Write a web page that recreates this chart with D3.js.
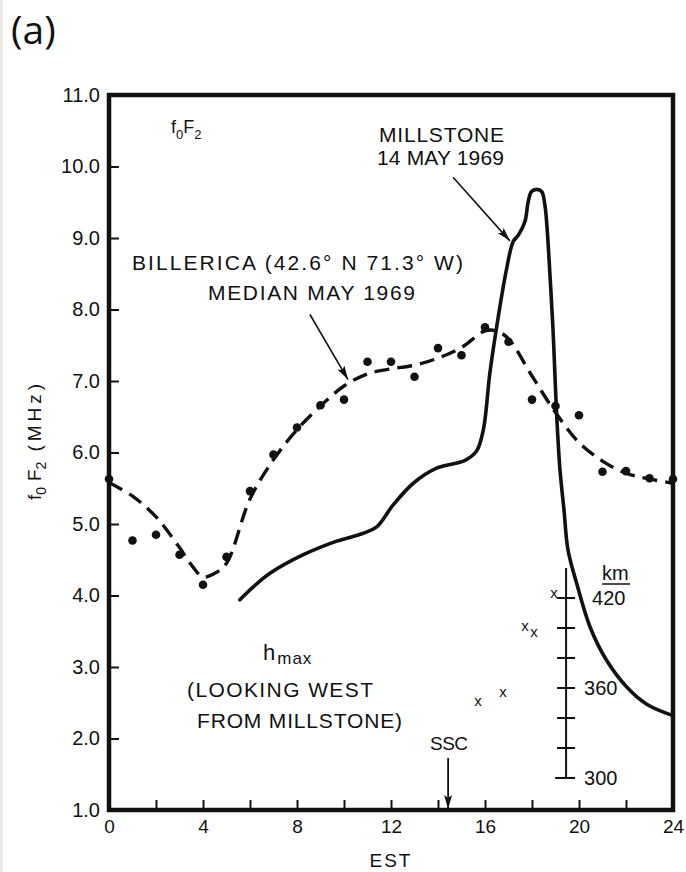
<!DOCTYPE html>
<html>
<head>
<meta charset="utf-8">
<script src="https://cdn.jsdelivr.net/npm/d3@7"></script>
<style>
body { margin: 0; background: #fff; }
svg { display: block; }
text { font-family: "Liberation Sans", Arial, sans-serif; fill: #111; }
</style>
</head>
<body>
<svg id="chart" width="686" height="872"></svg>
<script>
var svg = d3.select("#chart")

// Billerica hourly medians (dots)
var dotHours = d3.range(0, 25)
var dotValues = [5.63, 4.77, 4.85, 4.57, 4.15, 4.54, 5.46, 5.97, 6.35, 6.66, 6.74, 7.27, 7.27,
	7.06, 7.46, 7.36, 7.75, 7.55, 6.74, 6.65, 6.52, 5.73, 5.74, 5.64, 5.63]

// smoothed median curve (dashed)
var medianHours = [0, 1, 2, 3, 3.5, 4, 4.5, 5, 6, 7, 8, 9, 10, 11, 12, 13, 14, 15, 16, 16.5, 17, 18, 19, 20, 21, 22, 23, 24]
var medianValues = [5.58, 5.39, 5.10, 4.67, 4.43, 4.26, 4.31, 4.45, 5.35, 5.9, 6.32, 6.65, 6.93, 7.10, 7.17, 7.22,
	7.32, 7.47, 7.70, 7.70, 7.59, 7.07, 6.56, 6.14, 5.88, 5.71, 5.63, 5.57]

// Millstone 14 May 1969 (solid)
var millHours = [5.57, 6.14, 6.85, 8.27, 9.69, 10.82, 11.39, 12.1, 12.95, 13.94, 15.15, 15.64, 15.93, 16.21, 16.57,
	16.92, 17.2, 17.42, 17.7, 17.84, 17.98, 18.2, 18.41, 18.55, 18.64, 18.77, 18.89, 18.98, 19.06, 19.19,
	19.36, 19.53, 19.9, 20.47, 21.18, 22.03, 22.88, 24]
var millValues = [3.94, 4.12, 4.31, 4.57, 4.76, 4.87, 4.96, 5.27, 5.57, 5.78, 5.89, 6.02, 6.32, 7.12, 7.91,
	8.57, 8.95, 9.04, 9.23, 9.51, 9.65, 9.68, 9.65, 9.46, 9.15, 8.45, 7.75, 7.05, 6.46, 5.76,
	5.2, 4.64, 4.17, 3.56, 3.09, 2.72, 2.48, 2.32]

// h max (km), looking west
var hmaxHours = [15.7, 16.77, 17.7, 18.09, 18.94]
var hmaxKm = [351, 357, 401, 397, 423]

var xTicks = d3.range(0, 25, 2)
var yTicks = d3.range(1, 12)
var kmTicks = d3.range(300, 421, 20)
var kmLabels = [300, 360, 420]
var sscHour = 14.43
var kmAxisHour = 19.45

var x = d3.scaleLinear().domain([0, 24]).range([109, 673])
var y = d3.scaleLinear().domain([1, 11]).range([810, 95])
var km = d3.scaleLinear().domain([300, 440]).range([778, 568])

// scan edge
svg.append("rect").attr("x", 0).attr("y", 0).attr("width", 3).attr("height", 872).attr("fill", "#ecebe2")

svg.append("text").attr("x", 11).attr("y", 44)
	.style("font-family", "'Open Sans', sans-serif").style("font-size", "39px").text("(a)")

var defs = svg.append("defs")
defs.append("marker").attr("id", "head")
	.attr("viewBox", "0 0 14 8").attr("refX", 14).attr("refY", 4)
	.attr("markerWidth", 14).attr("markerHeight", 8)
	.attr("markerUnits", "userSpaceOnUse").attr("orient", "auto")
	.append("path").attr("d", "M0,0 L14,4 L0,8 L3,4 z").attr("fill", "#111")

// axes
var xAxis = d3.axisBottom(x).tickValues(xTicks).tickSize(-10).tickPadding(10)
	.tickFormat(function(d) { return d % 4 === 0 ? d : "" })
var gx = svg.append("g").attr("transform", "translate(0," + y(1) + ")").call(xAxis)
gx.select(".domain").remove()
gx.selectAll(".tick line").attr("stroke", "#111").attr("stroke-width", 2)
gx.selectAll(".tick text").style("font-size", "19px").attr("fill", "#111")

var yAxis = d3.axisLeft(y).tickValues(yTicks).tickSize(-10).tickPadding(9).tickFormat(d3.format(".1f"))
var gy = svg.append("g").attr("transform", "translate(" + x(0) + ",0)").call(yAxis)
gy.select(".domain").remove()
gy.selectAll(".tick line").attr("stroke", "#111").attr("stroke-width", 2)
gy.selectAll(".tick text").style("font-size", "20px").attr("fill", "#111")

// frame
svg.append("rect")
	.attr("x", x(0)).attr("y", y(11))
	.attr("width", x(24) - x(0)).attr("height", y(1) - y(11))
	.attr("fill", "none").attr("stroke", "#111").attr("stroke-width", 4.5)

svg.append("text").attr("x", x(12)).attr("y", 867).attr("text-anchor", "middle")
	.style("font-size", "19px").style("letter-spacing", "2px").text("EST")

var ylab = svg.append("text").attr("transform", "translate(41,440) rotate(-90)")
	.attr("text-anchor", "middle").style("font-size", "19px")
ylab.append("tspan").text("f")
ylab.append("tspan").attr("dy", 5).style("font-size", "14px").text("0")
ylab.append("tspan").attr("dy", -5).attr("dx", 6).text("F")
ylab.append("tspan").attr("dy", 5).style("font-size", "14px").text("2")
ylab.append("tspan").attr("dy", -5).attr("dx", 10).style("letter-spacing", "4px").text("(MHz)")

// f0F2 corner label
var flab = svg.append("text").attr("x", 171).attr("y", 133).style("font-size", "18px")
flab.append("tspan").text("f")
flab.append("tspan").attr("dy", 6).style("font-size", "13px").text("0")
flab.append("tspan").attr("dy", -6).text("F")
flab.append("tspan").attr("dy", 6).style("font-size", "13px").text("2")

// median dashed curve
var medLine = d3.line()
	.x(function(d, i) { return x(medianHours[i]) })
	.y(function(d) { return y(d) })
	.curve(d3.curveCatmullRom.alpha(0.5))
svg.append("path").datum(medianValues)
	.attr("d", medLine).attr("fill", "none").attr("stroke", "#111")
	.attr("stroke-width", 3.4).attr("stroke-dasharray", "15,8")

svg.selectAll(".dot").data(dotValues).enter().append("circle")
	.attr("class", "dot")
	.attr("cx", function(d, i) { return x(dotHours[i]) })
	.attr("cy", function(d) { return y(d) })
	.attr("r", 4.3).attr("fill", "#111")

// millstone solid curve
var millLine = d3.line()
	.x(function(d, i) { return x(millHours[i]) })
	.y(function(d) { return y(d) })
	.curve(d3.curveCatmullRom.alpha(0.5))
svg.append("path").datum(millValues)
	.attr("d", millLine).attr("fill", "none").attr("stroke", "#111")
	.attr("stroke-width", 3.6).attr("stroke-linejoin", "round").attr("stroke-linecap", "round")

// annotations
function label(tx, ty, str, w, size) {
	return svg.append("text").attr("x", tx).attr("y", ty)
		.attr("textLength", w).attr("lengthAdjust", "spacing")
		.style("font-size", (size || 21) + "px").text(str)
}
label(379, 142, "MILLSTONE", 125)
label(377, 165, "14 MAY 1969", 127)
label(132, 270, "BILLERICA (42.6\u00b0 N  71.3\u00b0 W)", 331)
label(208, 300, "MEDIAN MAY 1969", 207)
label(187, 697, "(LOOKING WEST", 186)
label(197, 728, "FROM MILLSTONE)", 205)
label(430, 750, "SSC", 38, 19)

var hl = svg.append("text").attr("x", 263).attr("y", 660).style("font-size", "22px")
hl.append("tspan").text("h")
hl.append("tspan").attr("dy", 4).attr("dx", 2).style("font-size", "17px").style("letter-spacing", "1px").text("max")

svg.append("line")
	.attr("x1", x(14.64)).attr("y1", y(9.85)).attr("x2", x(17.06)).attr("y2", y(8.96))
	.attr("stroke", "#111").attr("stroke-width", 1.6).attr("marker-end", "url(#head)")
svg.append("line")
	.attr("x1", x(8.55)).attr("y1", y(7.93)).attr("x2", x(10.17)).attr("y2", y(7.02))
	.attr("stroke", "#111").attr("stroke-width", 1.6).attr("marker-end", "url(#head)")
svg.append("line")
	.attr("x1", x(sscHour)).attr("y1", 758).attr("x2", x(sscHour)).attr("y2", y(1) - 1)
	.attr("stroke", "#111").attr("stroke-width", 1.8).attr("marker-end", "url(#head)")

// km scale for h max
var kx = x(kmAxisHour)
svg.append("line").attr("x1", kx).attr("x2", kx).attr("y1", km(440)).attr("y2", km(300))
	.attr("stroke", "#111").attr("stroke-width", 2)
svg.selectAll(".kmtick").data(kmTicks).enter().append("line")
	.attr("class", "kmtick")
	.attr("x1", function(d) { return d === 300 ? kx - 11 : kx - 9 })
	.attr("x2", function(d) { return kx + 9 })
	.attr("y1", function(d) { return km(d) }).attr("y2", function(d) { return km(d) })
	.attr("stroke", "#111").attr("stroke-width", 2)
svg.selectAll(".kmlab").data(kmLabels).enter().append("text")
	.attr("class", "kmlab")
	.attr("x", function(d) { return d === 420 ? kx + 26 : kx + 18 })
	.attr("y", function(d) { return km(d) })
	.attr("dy", "0.35em").style("font-size", "20px")
	.text(function(d) { return d })
svg.append("text").attr("x", kx + 36).attr("y", km(432)).attr("text-anchor", "start")
	.style("font-size", "20px").text("km")
svg.append("line").attr("x1", kx + 36).attr("x2", kx + 64).attr("y1", km(432) + 4).attr("y2", km(432) + 4)
	.attr("stroke", "#111").attr("stroke-width", 1.5)

svg.selectAll(".hx").data(hmaxKm).enter().append("text")
	.attr("class", "hx")
	.attr("x", function(d, i) { return x(hmaxHours[i]) })
	.attr("y", function(d) { return km(d) })
	.attr("dy", "0.3em").attr("text-anchor", "middle")
	.style("font-size", "15px").text("x")
</script>
</body>
</html>
